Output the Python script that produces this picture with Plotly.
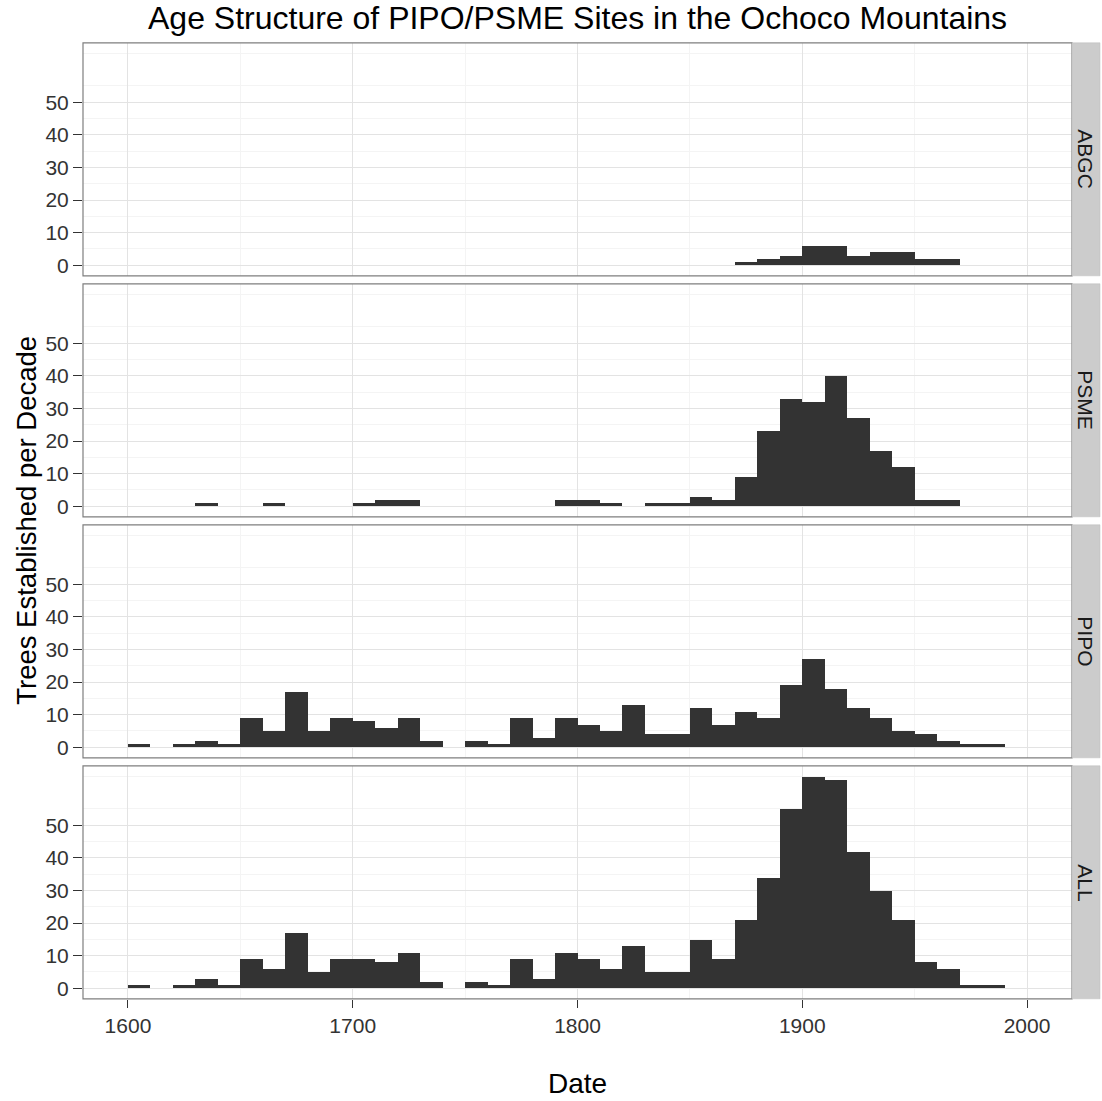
import plotly.graph_objects as go

# Decade bins (start year of each 10-year bin)
decades = list(range(1600, 1990, 10))

# Trees established per decade, by group (one value per decade above)
abgc = [0, 0, 0, 0, 0, 0, 0, 0, 0, 0,
        0, 0, 0, 0, 0, 0, 0, 0, 0, 0,
        0, 0, 0, 0, 0, 0, 0, 1, 2, 3,
        6, 6, 3, 4, 4, 2, 2, 0, 0]
psme = [0, 0, 0, 1, 0, 0, 1, 0, 0, 0,
        1, 2, 2, 0, 0, 0, 0, 0, 0, 2,
        2, 1, 0, 1, 1, 3, 2, 9, 23, 33,
        32, 40, 27, 17, 12, 2, 2, 0, 0]
pipo = [1, 0, 1, 2, 1, 9, 5, 17, 5, 9,
        8, 6, 9, 2, 0, 2, 1, 9, 3, 9,
        7, 5, 13, 4, 4, 12, 7, 11, 9, 19,
        27, 18, 12, 9, 5, 4, 2, 1, 1]
all_sites = [1, 0, 1, 3, 1, 9, 6, 17, 5, 9,
             9, 8, 11, 2, 0, 2, 1, 9, 3, 11,
             9, 6, 13, 5, 5, 15, 9, 21, 34, 55,
             65, 64, 42, 30, 21, 8, 6, 1, 1]

panel_names = ["ABGC", "PSME", "PIPO", "ALL"]
panel_values = [abgc, psme, pipo, all_sites]

x_ticks = [1600, 1700, 1800, 1900, 2000]
y_ticks = [0, 10, 20, 30, 40, 50]

W, H = 1102, 1101
left_px, right_px = 83, 1072
strip_right_px = 1100
panel_tops = [42.8, 283.8, 524.8, 765.8]
panel_h = 233.0

def px_x(p):
    return p / W

def px_y(p):
    return 1 - p / H

fig = go.Figure()
shapes = []
annotations = []

bar_color = "#333333"
border_color = "#7f7f7f"
major_grid = "#e3e3e3"
minor_grid = "#f4f4f4"
tick_color = "#333333"
font_family = "Liberation Sans, Arial, sans-serif"

for i, (name, vals) in enumerate(zip(panel_names, panel_values)):
    n = i + 1
    xa = "x" if n == 1 else f"x{n}"
    ya = "y" if n == 1 else f"y{n}"
    centers = [d + 5 for d, v in zip(decades, vals) if v > 0]
    heights = [v for v in vals if v > 0]
    fig.add_trace(go.Bar(
        x=centers, y=heights, width=10,
        marker=dict(color=bar_color, line=dict(width=0)),
        xaxis=xa, yaxis=ya, showlegend=False, hoverinfo="x+y",
    ))

    top = panel_tops[i]
    bot = top + panel_h
    ydom = [px_y(bot), px_y(top)]
    is_bottom = (n == 4)

    xkey = "xaxis" if n == 1 else f"xaxis{n}"
    ykey = "yaxis" if n == 1 else f"yaxis{n}"
    fig.layout[xkey] = dict(
        domain=[px_x(left_px), px_x(right_px)],
        range=[1580, 2020],
        anchor=ya,
        tickmode="array", tickvals=x_ticks,
        showticklabels=is_bottom,
        ticks="outside" if is_bottom else "",
        ticklen=8, tickcolor=tick_color, tickwidth=1,
        tickfont=dict(family=font_family, size=21, color="#333333"),
        showgrid=True, gridcolor=major_grid, gridwidth=1,
        minor=dict(tickmode="array", tickvals=[1550, 1650, 1750, 1850, 1950, 2050],
                   showgrid=True, gridcolor=minor_grid, gridwidth=1, ticks=""),
        zeroline=False, showline=False, fixedrange=True,
    )
    fig.layout[ykey] = dict(
        domain=ydom,
        range=[-3.25, 68.25],
        anchor=xa,
        tickmode="array", tickvals=y_ticks,
        ticks="outside", ticklen=9, tickcolor=tick_color, tickwidth=1,
        tickfont=dict(family=font_family, size=21, color="#333333"),
        showgrid=True, gridcolor=major_grid, gridwidth=1,
        minor=dict(tickmode="array", tickvals=[5, 15, 25, 35, 45, 55, 65],
                   showgrid=True, gridcolor=minor_grid, gridwidth=1, ticks=""),
        zeroline=False, showline=False, fixedrange=True,
    )

    # panel border
    shapes.append(dict(type="rect", xref="paper", yref="paper",
                       x0=px_x(left_px), x1=px_x(right_px), y0=ydom[0], y1=ydom[1],
                       line=dict(color=border_color, width=1.2), fillcolor="rgba(0,0,0,0)",
                       layer="above"))
    # facet strip on the right
    shapes.append(dict(type="rect", xref="paper", yref="paper",
                       x0=px_x(right_px), x1=px_x(strip_right_px), y0=ydom[0], y1=ydom[1],
                       line=dict(color="#bdbdbd", width=0.5), fillcolor="#cccccc",
                       layer="above"))
    annotations.append(dict(
        text=name, xref="paper", yref="paper",
        x=px_x((right_px + strip_right_px) / 2), y=(ydom[0] + ydom[1]) / 2,
        textangle=90, showarrow=False, xanchor="center", yanchor="middle",
        font=dict(family=font_family, size=21, color="#1a1a1a"),
    ))

# axis titles and main title
annotations.append(dict(
    text="Date", xref="paper", yref="paper",
    x=px_x((left_px + right_px) / 2), y=px_y(1083),
    showarrow=False, xanchor="center", yanchor="middle",
    font=dict(family=font_family, size=28, color="#000000"),
))
annotations.append(dict(
    text="Trees Established per Decade", xref="paper", yref="paper",
    x=px_x(27), y=px_y((panel_tops[0] + panel_tops[3] + panel_h) / 2),
    textangle=-90, showarrow=False, xanchor="center", yanchor="middle",
    font=dict(family=font_family, size=27.5, color="#000000"),
))
annotations.append(dict(
    text="Age Structure of PIPO/PSME Sites in the Ochoco Mountains",
    xref="paper", yref="paper",
    x=px_x((left_px + right_px) / 2), y=px_y(18),
    showarrow=False, xanchor="center", yanchor="middle",
    font=dict(family=font_family, size=32, color="#000000"),
))

fig.update_layout(
    width=W, height=H,
    margin=dict(l=0, r=0, t=0, b=0),
    paper_bgcolor="white", plot_bgcolor="white",
    shapes=shapes, annotations=annotations,
    bargap=0, showlegend=False,
)

fig.write_html("out.html")
